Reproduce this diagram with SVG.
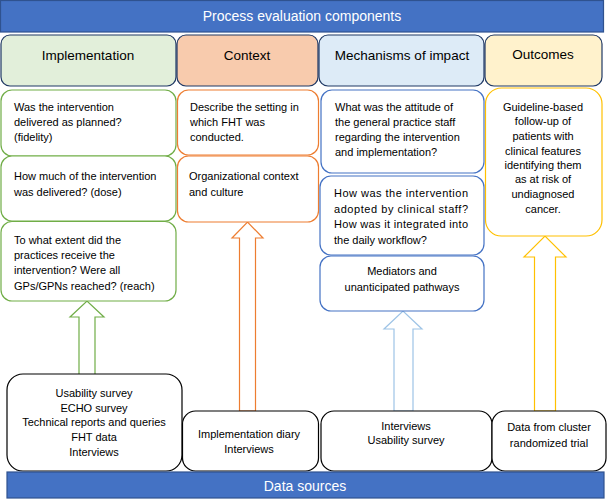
<svg xmlns="http://www.w3.org/2000/svg" width="608" height="499" viewBox="0 0 608 499">
<style>
text{font-family:"Liberation Sans",Arial,sans-serif;font-size:11px;fill:#000}
.bar{fill:#4472C4;stroke:#2F528F;stroke-width:1.2}
.bt{fill:#fff;font-size:14px}
.hd{stroke:#1F3864;stroke-width:1.2}
.ht{font-size:13.5px}
.g{fill:#fff;stroke:#70AD47;stroke-width:1.2}
.o{fill:#fff;stroke:#ED7D31;stroke-width:1.2}
.b{fill:#fff;stroke:#4472C4;stroke-width:1.2}
.y{fill:#fff;stroke:#FFC000;stroke-width:1.2}
.d{fill:#fff;stroke:#000;stroke-width:1.2}
.c{text-anchor:middle}
</style>
<g id="header"><rect class="bar" x="0.5" y="0.5" width="603" height="31.5"/><text class="bt c" x="302" y="21">Process evaluation components</text></g>
<g id="h-impl"><rect class="hd" x="1" y="35" width="175" height="51" rx="9" fill="#E2EFDA"/><text class="ht c" x="88" y="60">Implementation</text></g>
<g id="h-ctx"><rect class="hd" x="177" y="35" width="141" height="51" rx="9" fill="#F8CBAD"/><text class="ht c" x="247" y="60">Context</text></g>
<g id="h-mech"><rect class="hd" x="319" y="35" width="165" height="51" rx="9" fill="#DDEBF7"/><text class="ht c" x="402" y="60">Mechanisms of impact</text></g>
<g id="h-out"><rect class="hd" x="485" y="35" width="117" height="51" rx="9" fill="#FFF2CC"/><text class="ht c" x="543" y="59">Outcomes</text></g>

<g id="arrows">
<path d="M79,374 V317 H70 L87,301 L104,317 H95 V374" fill="#fff" stroke="#70AD47" stroke-width="1.2"/>
<path d="M239.5,411 V238 H232 L247.5,222 L263,238 H255.5 V411 Z" fill="#fff" stroke="#ED7D31" stroke-width="1.2"/>
<path d="M394,411 V329 H384 L403,311 L422,329 H413 V411 Z" fill="#fff" stroke="#9DC3E6" stroke-width="1.2"/>
<path d="M534.5,411 V257 H524 L545,236 L566,257 H555.5 V411 Z" fill="#fff" stroke="#FFC000" stroke-width="1.2"/>
</g>

<g id="impl1"><rect class="g" x="1" y="90" width="175" height="66" rx="11"/><text x="14" y="111">Was the intervention</text><text x="14" y="126">delivered as planned?</text><text x="14" y="141">(fidelity)</text></g>
<g id="impl2"><rect class="g" x="1" y="156" width="175" height="65" rx="11"/><text x="14" y="180">How much of the intervention</text><text x="14" y="196">was delivered? (dose)</text></g>
<g id="impl3"><rect class="g" x="1" y="221.5" width="175" height="79.5" rx="11"/><text x="14" y="244">To what extent did the</text><text x="14" y="259">practices receive the</text><text x="14" y="274">intervention?  Were all</text><text x="14" y="290">GPs/GPNs reached? (reach)</text></g>

<g id="ctx1"><rect class="o" x="177.5" y="90" width="141" height="65" rx="11"/><text x="190" y="111">Describe the setting in</text><text x="190" y="126">which FHT was</text><text x="190" y="141">conducted.</text></g>
<g id="ctx2"><rect class="o" x="177.5" y="156" width="141" height="66" rx="11"/><text x="189" y="180">Organizational context</text><text x="189" y="196">and culture</text></g>

<g id="mech1"><rect class="b" x="321" y="90" width="163" height="83" rx="11"/><text x="335" y="111">What was the attitude of</text><text x="335" y="126">the general practice staff</text><text x="335" y="141">regarding the  intervention</text><text x="335" y="156">and implementation?</text></g>
<g id="mech2"><rect class="b" x="320" y="176" width="164" height="79" rx="11"/><text x="334" y="197" textLength="134" lengthAdjust="spacing">How was the intervention</text><text x="334" y="213" textLength="134" lengthAdjust="spacing">adopted by clinical staff?</text><text x="334" y="228" textLength="134" lengthAdjust="spacing">How was it integrated into</text><text x="334" y="244">the daily workflow?</text></g>
<g id="mech3"><rect class="b" x="320" y="256" width="164" height="55" rx="11"/><text class="c" x="402" y="275">Mediators and</text><text class="c" x="402" y="291">unanticipated pathways</text></g>

<g id="out1"><rect class="y" x="485.5" y="88" width="116.5" height="148" rx="16"/><text class="c" x="543" y="111">Guideline-based</text><text class="c" x="543" y="125">follow-up of</text><text class="c" x="543" y="140">patients with</text><text class="c" x="543" y="155">clinical features</text><text class="c" x="543" y="169">identifying them</text><text class="c" x="543" y="183">as at risk of</text><text class="c" x="543" y="198">undiagnosed</text><text class="c" x="543" y="213">cancer.</text></g>

<g id="ds1"><rect class="d" x="7" y="374" width="175" height="97" rx="16"/><text class="c" x="94" y="397">Usability survey</text><text class="c" x="94" y="412">ECHO survey</text><text class="c" x="94" y="426">Technical reports and queries</text><text class="c" x="94" y="441">FHT data</text><text class="c" x="94" y="456">Interviews</text></g>
<g id="ds2"><rect class="d" x="182.5" y="411" width="136" height="60" rx="13"/><text class="c" x="249" y="438">Implementation diary</text><text class="c" x="249" y="453">Interviews</text></g>
<g id="ds3"><rect class="d" x="321" y="411" width="171" height="60" rx="13"/><text class="c" x="406" y="430">Interviews</text><text class="c" x="406" y="444">Usability survey</text></g>
<g id="ds4"><rect class="d" x="492" y="411" width="114" height="60" rx="13"/><text class="c" x="549" y="431">Data from cluster</text><text class="c" x="549" y="447">randomized trial</text></g>

<g id="footer"><rect class="bar" x="7" y="472" width="597" height="26"/><text class="bt c" x="305" y="491">Data sources</text></g>
</svg>
